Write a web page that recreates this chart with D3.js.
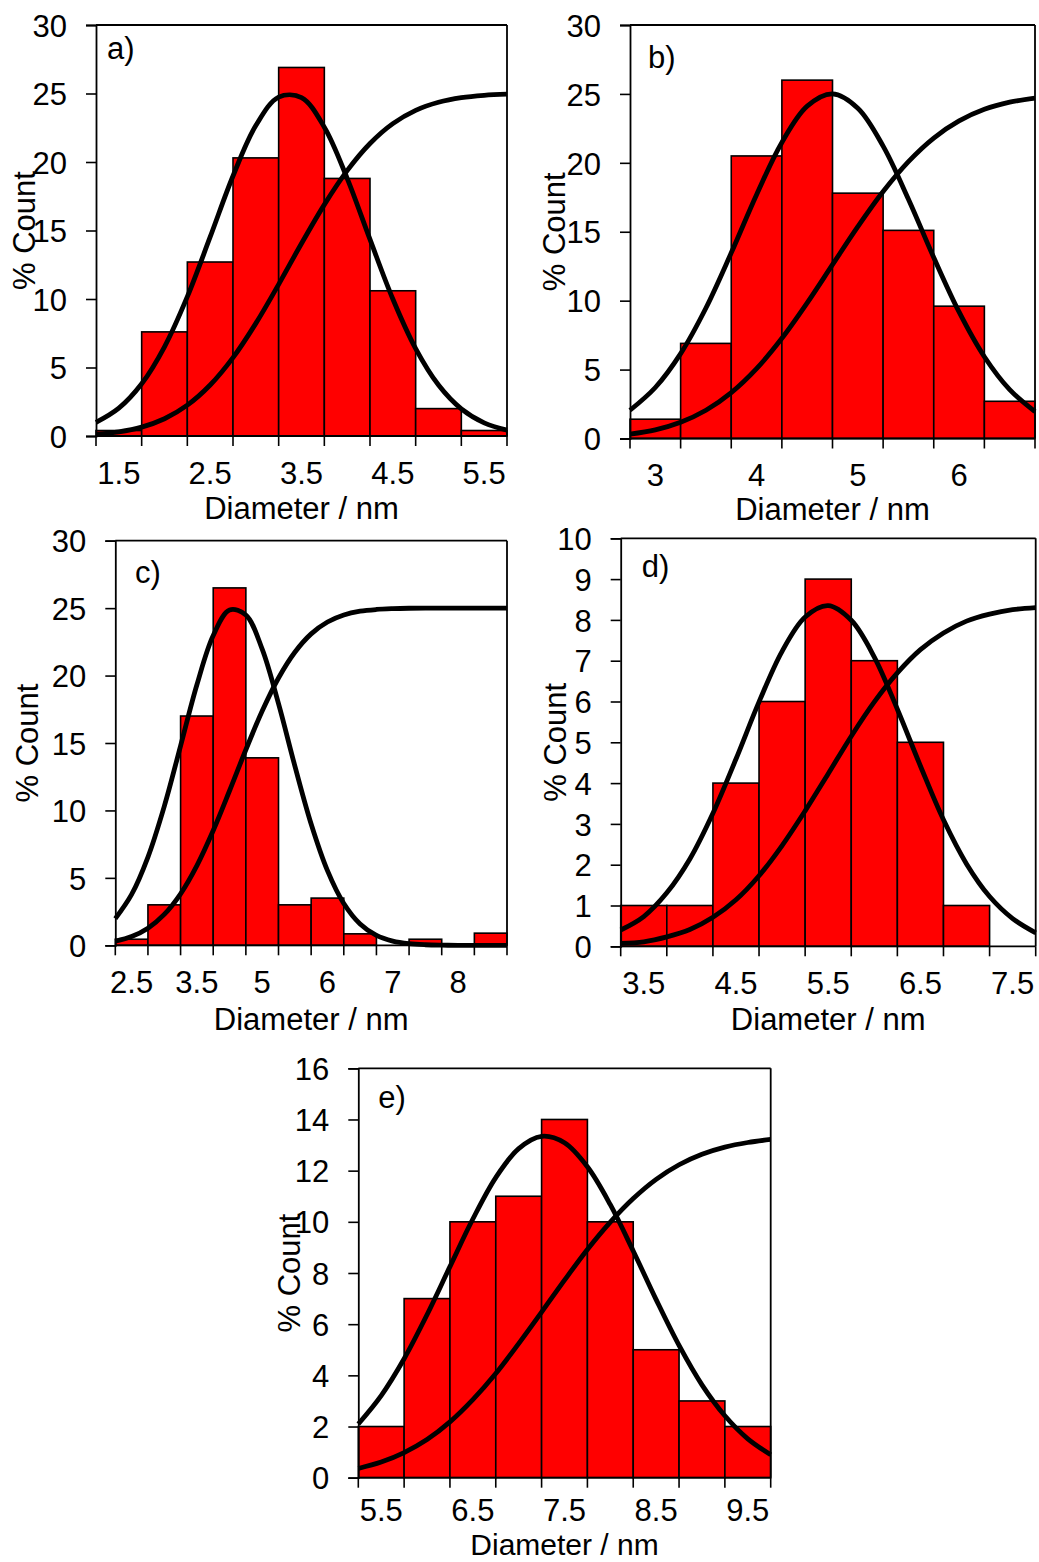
<!DOCTYPE html>
<html><head><meta charset="utf-8">
<script src="https://cdn.jsdelivr.net/npm/d3@7"></script>
<style>
body{margin:0;background:#fff}
text{font-family:"Liberation Sans",Arial,sans-serif;fill:#000}
</style>
</head><body>
<svg id="chart" width="1039" height="1562"></svg>
<script>
// ---------- DATA ----------
// Panel a
const catsA = ["1.5","2","2.5","3","3.5","4","4.5","5","5.5"];
const valsA = [0.4,7.6,12.7,20.3,26.9,18.8,10.6,2.0,0.4];
const yTicksA = [0,5,10,15,20,25,30];
const curveXA = [1.25,1.5,1.75,2.0,2.25,2.5,2.75,3.0,3.25,3.5,3.75,4.0,4.25,4.5,4.75,5.0,5.25,5.5,5.75];
const gaussA = [0.99,2.03,3.81,6.51,10.17,14.53,18.98,22.66,24.74,24.70,22.54,18.81,14.35,10.00,6.38,3.72,1.98,0.96,0.43];
const cdfA = [0.14,0.31,0.65,1.26,2.25,3.72,5.72,8.22,11.07,14.05,16.89,19.37,21.35,22.80,23.77,24.36,24.70,24.87,24.95];

// Panel b
const catsB = ["3","3.5","4","4.5","5","5.5","6","6.5"];
const valsB = [1.4,6.9,20.5,26.0,17.8,15.1,9.6,2.7];
const yTicksB = [0,5,10,15,20,25,30];
const curveXB = [2.75,3.0,3.25,3.5,3.75,4.0,4.25,4.5,4.75,5.0,5.25,5.5,5.75,6.0,6.25,6.5,6.75];
const gaussB = [2.05,3.70,6.16,9.47,13.47,17.69,21.48,24.11,25.0,23.96,21.21,17.36,13.13,9.18,5.93,3.54,1.95];
const cdfB = [0.32,0.63,1.18,2.05,3.33,5.07,7.27,9.84,12.61,15.37,17.92,20.09,21.80,23.04,23.88,24.40,24.70];

// Panel c
const catsC = ["2.5","3","3.5","4","5","5.5","6","6.5","7","7.5","8","8.5"];
const valsC = [0.45,3.0,17.0,26.5,13.9,3.0,3.5,0.85,0,0.45,0,0.9];
const yTicksC = [0,5,10,15,20,25,30];
const curveXC = [2.25,2.5,2.75,3.0,3.25,3.5,3.75,4.0,4.25,4.5,4.75,5.0,5.25,5.5,5.75,6.0,6.25,6.5,6.75,7.0,7.25,7.5,7.75,8.0,8.25];
const gaussC = [1.98,3.77,6.54,10.30,14.79,19.32,22.97,24.86,24.49,21.96,17.92,13.31,9.00,5.54,3.10,1.58,0.73,0.31,0.12,0.04,0.01,0,0,0,0];
const cdfC = [0.30,0.65,1.27,2.29,3.82,5.91,8.51,11.46,14.50,17.37,19.82,21.73,23.09,23.97,24.49,24.77,24.90,24.96,24.99,25,25,25,25,25,25];

// Panel d
const catsD = ["3.5","4","4.5","5","5.5","6","6.5","7","7.5"];
const valsD = [1,1,4,6,9,7,5,1,0];
const yTicksD = [0,1,2,3,4,5,6,7,8,9,10];
const curveXD = [3.25,3.5,3.75,4.0,4.25,4.5,4.75,5.0,5.25,5.5,5.75,6.0,6.25,6.5,6.75,7.0,7.25,7.5,7.75];
const gaussD = [0.40,0.73,1.31,2.14,3.26,4.59,5.99,7.23,8.07,8.35,7.99,7.09,5.81,4.42,3.10,2.02,1.22,0.68,0.33];
const cdfD = [0.07,0.11,0.23,0.41,0.71,1.14,1.73,2.47,3.32,4.23,5.15,5.99,6.70,7.27,7.68,7.97,8.14,8.25,8.30];

// Panel e
const catsE = ["5.5","6","6.5","7","7.5","8","8.5","9","9.5"];
const valsE = [2,7,10,11,14,10,5,3,2];
const yTicksE = [0,2,4,6,8,10,12,14,16];
const curveXE = [5.25,5.5,5.75,6.0,6.25,6.5,6.75,7.0,7.25,7.5,7.75,8.0,8.25,8.5,8.75,9.0,9.25,9.5,9.75];
const gaussE = [2.10,3.21,4.65,6.37,8.25,10.11,11.73,12.86,13.34,13.09,12.15,10.67,8.86,6.96,5.17,3.63,2.42,1.52,0.90];
const cdfE = [0.36,0.61,0.98,1.49,2.18,3.05,4.07,5.24,6.47,7.72,8.92,9.99,10.91,11.66,12.23,12.64,12.92,13.10,13.22];

const panelLabels = ["a)","b)","c)","d)","e)"];
const xTitle = "Diameter / nm";
const yTitle = "% Count";

// ---------- LAYOUT ----------
const panels = [
  {label:panelLabels[0], cats:catsA, vals:valsA, yTicks:yTicksA, cx:curveXA, g:gaussA, c:cdfA,
   L:96, R:507, T:25, B:436, yTitleX:34.5, lab:[107,59], xTitleY:518.5, xLabOff:47.8, xTitleFS:31},
  {label:panelLabels[1], cats:catsB, vals:valsB, yTicks:yTicksB, cx:curveXB, g:gaussB, c:cdfB,
   L:630, R:1035, T:25, B:438.5, yTitleX:565, lab:[648,68], xTitleY:519.5, xLabOff:47.8, xTitleFS:31},
  {label:panelLabels[2], cats:catsC, vals:valsC, yTicks:yTicksC, cx:curveXC, g:gaussC, c:cdfC,
   L:115.3, R:507, T:540.7, B:945.3, yTitleX:38, lab:[135,583], xTitleY:1030, xLabOff:47.8, xTitleFS:31},
  {label:panelLabels[3], cats:catsD, vals:valsD, yTicks:yTicksD, cx:curveXD, g:gaussD, c:cdfD,
   L:620.7, R:1035.7, T:538.3, B:946.3, yTitleX:566, lab:[641.7,576.7], xTitleY:1030, xLabOff:47.8, xTitleFS:31},
  {label:panelLabels[4], cats:catsE, vals:valsE, yTicks:yTicksE, cx:curveXE, g:gaussE, c:cdfE,
   L:358.3, R:770.7, T:1068.3, B:1477.7, yTitleX:300, lab:[378.3,1108.3], xTitleY:1555, xLabOff:43.5, xTitleFS:30}
];

const svg = d3.select("#chart");
const FS = 31;

panels.forEach(p => {
  const g = svg.append("g");
  const x = d3.scaleBand().domain(p.cats).range([p.L, p.R]).padding(0);
  const y = d3.scaleLinear().domain([p.yTicks[0], p.yTicks[p.yTicks.length-1]]).range([p.B, p.T]);
  const xc = d3.scaleLinear().domain([p.cx[0], p.cx[p.cx.length-1]]).range([p.L, p.R]);

  // bars
  g.selectAll("rect.bar").data(p.cats.map((c,i)=>({c, v:p.vals[i]})).filter(d=>d.v>0))
    .enter().append("rect")
    .attr("x", d=>x(d.c)).attr("width", x.bandwidth())
    .attr("y", d=>y(d.v)).attr("height", d=>y(0)-y(d.v))
    .attr("fill","#ff0000").attr("stroke","#000").attr("stroke-width",1.6);

  // curves
  const line = d3.line().x(d=>xc(d[0])).y(d=>y(d[1])).curve(d3.curveCatmullRom.alpha(0.5));
  [p.g, p.c].forEach(arr => {
    g.append("path").datum(p.cx.map((xv,i)=>[xv, arr[i]]))
      .attr("d", line).attr("fill","none").attr("stroke","#000")
      .attr("stroke-width",4.8).attr("stroke-linejoin","round");
  });

  // frame (top/right)
  g.append("line").attr("x1",p.L).attr("x2",p.R).attr("y1",p.T).attr("y2",p.T)
    .attr("stroke","#000").attr("stroke-width",1.8);
  g.append("line").attr("x1",p.R).attr("x2",p.R).attr("y1",p.T).attr("y2",p.B)
    .attr("stroke","#000").attr("stroke-width",1.8);

  // y axis
  const ya = d3.axisLeft(y).tickValues(p.yTicks).tickSize(10).tickPadding(19).tickFormat(d3.format("d"));
  const yg = g.append("g").attr("transform",`translate(${p.L},0)`).call(ya);
  yg.select(".domain").attr("stroke-width",1.8);
  yg.selectAll(".tick line").attr("stroke-width",1.6);
  yg.selectAll(".tick text").attr("font-size",FS).attr("font-family",null).attr("dy","0.36em");

  // x axis: ticks at bin boundaries, labels at every other category
  const xa = d3.axisBottom(x).tickSize(0).tickPadding(0)
    .tickFormat((d,i)=> i%2===0 ? d : "");
  const xg = g.append("g").attr("transform",`translate(0,${p.B})`).call(xa);
  xg.select(".domain").attr("stroke-width",1.8).attr("d",`M${p.L},0H${p.R}`);
  xg.selectAll(".tick text").attr("font-size",FS).attr("font-family",null)
    .attr("y",p.xLabOff).attr("dy",0);
  const bounds = p.cats.map(c=>x(c)).concat([p.R]);
  g.selectAll("line.xt").data(bounds).enter().append("line")
    .attr("x1",d=>d).attr("x2",d=>d).attr("y1",p.B).attr("y2",p.B+10)
    .attr("stroke","#000").attr("stroke-width",1.6);

  // titles
  g.append("text").attr("x",(p.L+p.R)/2).attr("y",p.xTitleY).attr("text-anchor","middle")
    .attr("font-size",p.xTitleFS).text(xTitle);
  g.append("text").attr("transform",`translate(${p.yTitleX},${(p.T+p.B)/2}) rotate(-90)`)
    .attr("text-anchor","middle").attr("font-size",FS).text(yTitle);
  g.append("text").attr("x",p.lab[0]).attr("y",p.lab[1]).attr("font-size",FS).text(p.label);
});
</script>
</body></html>
